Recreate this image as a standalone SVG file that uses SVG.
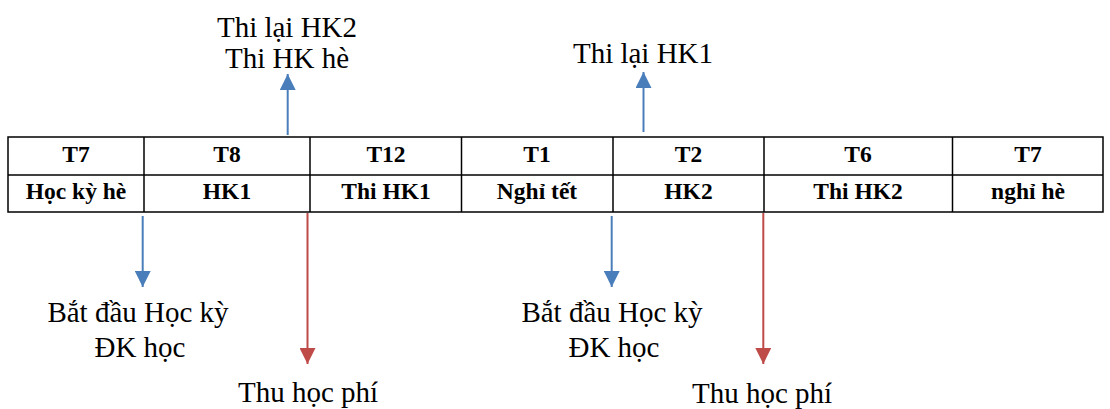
<svg xmlns="http://www.w3.org/2000/svg" width="1110" height="409" viewBox="0 0 1110 409">
<style>
.cell{font-family:"Liberation Serif","Times New Roman",serif;font-weight:bold;font-size:23.5px;fill:#000;text-anchor:middle}
.lbl{font-family:"Liberation Serif","Times New Roman",serif;font-size:29px;fill:#000;text-anchor:middle}
.grid{stroke:#000;stroke-width:1.5;fill:none}
.blue{stroke:#4A7EBB;stroke-width:2;fill:none}
.red{stroke:#BE4B48;stroke-width:2;fill:none}
</style>
<defs>
<marker id="ab" viewBox="0 0 16 16" refX="16" refY="8" markerWidth="16" markerHeight="16" markerUnits="userSpaceOnUse" orient="auto"><path d="M0,0 L16,8 L0,16 Z" fill="#4A7EBB"/></marker>
<marker id="ar" viewBox="0 0 16 16" refX="16" refY="8" markerWidth="16" markerHeight="16" markerUnits="userSpaceOnUse" orient="auto"><path d="M0,0 L16,8 L0,16 Z" fill="#BE4B48"/></marker>
</defs>
<g id="table">
<rect class="grid" x="8" y="137" width="1095" height="75"/>
<line class="grid" x1="8" y1="175" x2="1103" y2="175"/>
<line class="grid" x1="144" y1="137" x2="144" y2="212"/>
<line class="grid" x1="310" y1="137" x2="310" y2="212"/>
<line class="grid" x1="461.5" y1="137" x2="461.5" y2="212"/>
<line class="grid" x1="613" y1="137" x2="613" y2="212"/>
<line class="grid" x1="764" y1="137" x2="764" y2="212"/>
<line class="grid" x1="952.5" y1="137" x2="952.5" y2="212"/>
</g>
<g id="c1"><text class="cell" x="76" y="162">T7</text><text class="cell" x="76" y="199">Học kỳ hè</text></g>
<g id="c2"><text class="cell" x="227" y="162">T8</text><text class="cell" x="227" y="199">HK1</text></g>
<g id="c3"><text class="cell" x="386" y="162">T12</text><text class="cell" x="386" y="199">Thi HK1</text></g>
<g id="c4"><text class="cell" x="537" y="162">T1</text><text class="cell" x="537" y="199">Nghỉ tết</text></g>
<g id="c5"><text class="cell" x="688.5" y="162">T2</text><text class="cell" x="688.5" y="199">HK2</text></g>
<g id="c6"><text class="cell" x="858" y="162">T6</text><text class="cell" x="858" y="199">Thi HK2</text></g>
<g id="c7"><text class="cell" x="1028" y="162">T7</text><text class="cell" x="1028" y="199">nghỉ hè</text></g>
<g id="connectors">
<line class="blue" x1="287.7" y1="135" x2="287.7" y2="74" marker-end="url(#ab)"/>
<line class="blue" x1="643.5" y1="132" x2="643.5" y2="72" marker-end="url(#ab)"/>
<line class="blue" x1="142.7" y1="216" x2="142.7" y2="287" marker-end="url(#ab)"/>
<line class="red" x1="307.5" y1="213" x2="307.5" y2="364" marker-end="url(#ar)"/>
<line class="blue" x1="611.7" y1="216" x2="611.7" y2="287" marker-end="url(#ab)"/>
<line class="red" x1="763.3" y1="213" x2="763.3" y2="364" marker-end="url(#ar)"/>
</g>
<g id="lbl-thilai-hk2"><text class="lbl" x="287" y="37">Thi lại HK2</text><text class="lbl" x="287" y="68">Thi HK hè</text></g>
<g id="lbl-thilai-hk1"><text class="lbl" x="643" y="63">Thi lại HK1</text></g>
<g id="lbl-batdau1"><text class="lbl" x="138" y="322">Bắt đầu Học kỳ</text><text class="lbl" x="140" y="357">ĐK học</text></g>
<g id="lbl-batdau2"><text class="lbl" x="612" y="322">Bắt đầu Học kỳ</text><text class="lbl" x="614" y="357">ĐK học</text></g>
<g id="lbl-thu1"><text class="lbl" x="308" y="402">Thu học phí</text></g>
<g id="lbl-thu2"><text class="lbl" x="762" y="403">Thu học phí</text></g>
</svg>
